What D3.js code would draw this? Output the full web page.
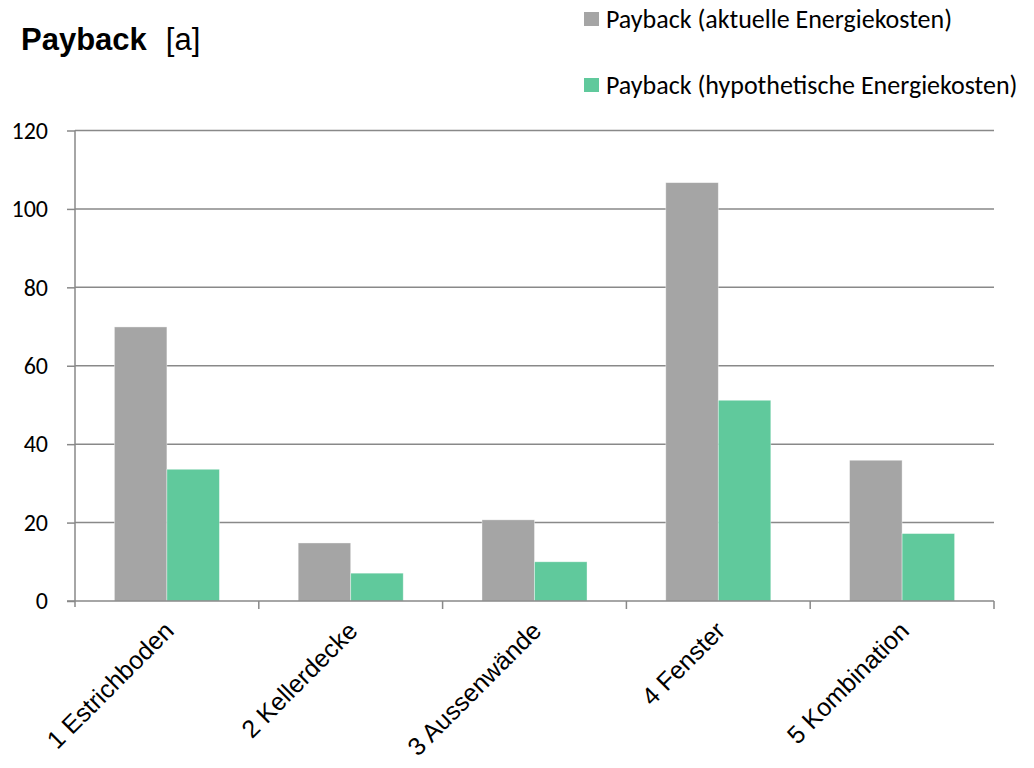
<!DOCTYPE html>
<html><head><meta charset="utf-8">
<script src="https://cdn.jsdelivr.net/npm/d3@7"></script>
<style>body{margin:0;background:#fff}svg{display:block}</style>
</head><body>
<script>
const categories = ["1 Estrichboden", "2 Kellerdecke", "3 Aussenwände", "4 Fenster", "5 Kombination"];
const seriesNames = ["Payback (aktuelle Energiekosten)", "Payback (hypothetische Energiekosten)"];
const aktuell = [69.9, 14.8, 20.7, 106.7, 35.9];
const hypothetisch = [33.6, 7.1, 10.0, 51.2, 17.2];
const yTicks = [0, 20, 40, 60, 80, 100, 120];
const colors = ["#A5A5A5", "#60C99C"];

const W = 1034, H = 768;
const m = {left: 75, right: 40, top: 130.5, bottom: 167};
const svg = d3.select("body").append("svg").attr("width", W).attr("height", H);
const x = d3.scaleBand().domain(categories).range([m.left, W - m.right]).paddingInner(0).paddingOuter(0);
const x1 = d3.scaleBand().domain([0, 1]).range([0, x.bandwidth()]).paddingInner(0).paddingOuter(0.75);
const y = d3.scaleLinear().domain([0, 120]).range([H - m.bottom, m.top]);
const axisColor = "#898989";
const calib = "Carlito, 'Open Sans', sans-serif";
const arial = "'Liberation Sans', Arial, sans-serif";

// gridlines
svg.append("g").selectAll("line").data(yTicks.filter(d => d > 0)).join("line")
  .attr("x1", m.left).attr("x2", W - m.right)
  .attr("y1", d => y(d)).attr("y2", d => y(d))
  .attr("stroke", axisColor).attr("stroke-width", 1.5);

// bars
const data = [aktuell, hypothetisch];
const g = svg.append("g");
data.forEach((vals, si) => {
  g.selectAll(null).data(vals).join("rect")
    .attr("x", (d, i) => x(categories[i]) + x1(si))
    .attr("width", x1.bandwidth())
    .attr("y", d => y(d))
    .attr("height", d => y(0) - y(d))
    .attr("fill", colors[si])
    .attr("stroke", "#fff").attr("stroke-opacity", 0.5).attr("stroke-width", 0.75);
});

// y axis
const yAxis = d3.axisLeft(y).tickValues(yTicks).tickSize(8).tickPadding(19);
const ya = svg.append("g").attr("transform", `translate(${m.left},0)`).call(yAxis);
ya.select(".domain").remove();
ya.selectAll("line").attr("stroke", axisColor).attr("stroke-width", 1.5);
ya.selectAll("text").attr("font-family", calib).attr("font-size", 24).attr("fill", "#000");
svg.append("line").attr("x1", m.left).attr("x2", m.left).attr("y1", m.top).attr("y2", y(0) + 6)
  .attr("stroke", axisColor).attr("stroke-width", 1.5);

// x axis
svg.append("line").attr("x1", m.left - 8).attr("x2", W - m.right).attr("y1", y(0)).attr("y2", y(0))
  .attr("stroke", axisColor).attr("stroke-width", 1.5);
const bounds = categories.map(c => x(c)).concat([x.range()[1]]);
svg.append("g").selectAll("line").data(bounds.slice(1)).join("line")
  .attr("x1", d => d).attr("x2", d => d).attr("y1", y(0)).attr("y2", y(0) + 8)
  .attr("stroke", axisColor).attr("stroke-width", 1.5);

// x labels
svg.append("g").selectAll("text").data(categories).join("text")
  .attr("transform", d => `translate(${x(d) + x.bandwidth() / 2 - 4},${y(0) + 19}) rotate(-45)`)
  .attr("text-anchor", "end").attr("dy", "0.7em")
  .attr("font-family", arial).attr("font-size", 25)
  .attr("fill", "#000").text(d => d);

// title
const t = svg.append("text").attr("x", 21).attr("y", 50).attr("font-family", arial).attr("font-size", 31);
t.append("tspan").attr("font-weight", "bold").text("Payback");
t.append("tspan").attr("dx", 19).text("[a]");

// legend
const lg = svg.append("g");
seriesNames.forEach((n, i) => {
  const yy = 19 + i * 66;
  lg.append("rect").attr("x", 584).attr("y", yy - 7).attr("width", 15).attr("height", 14).attr("fill", colors[i]);
  lg.append("text").attr("x", 606).attr("y", yy).attr("dy", "0.35em")
    .attr("font-family", calib).attr("font-size", 26).attr("fill", "#000").text(n);
});
</script>
</body></html>
